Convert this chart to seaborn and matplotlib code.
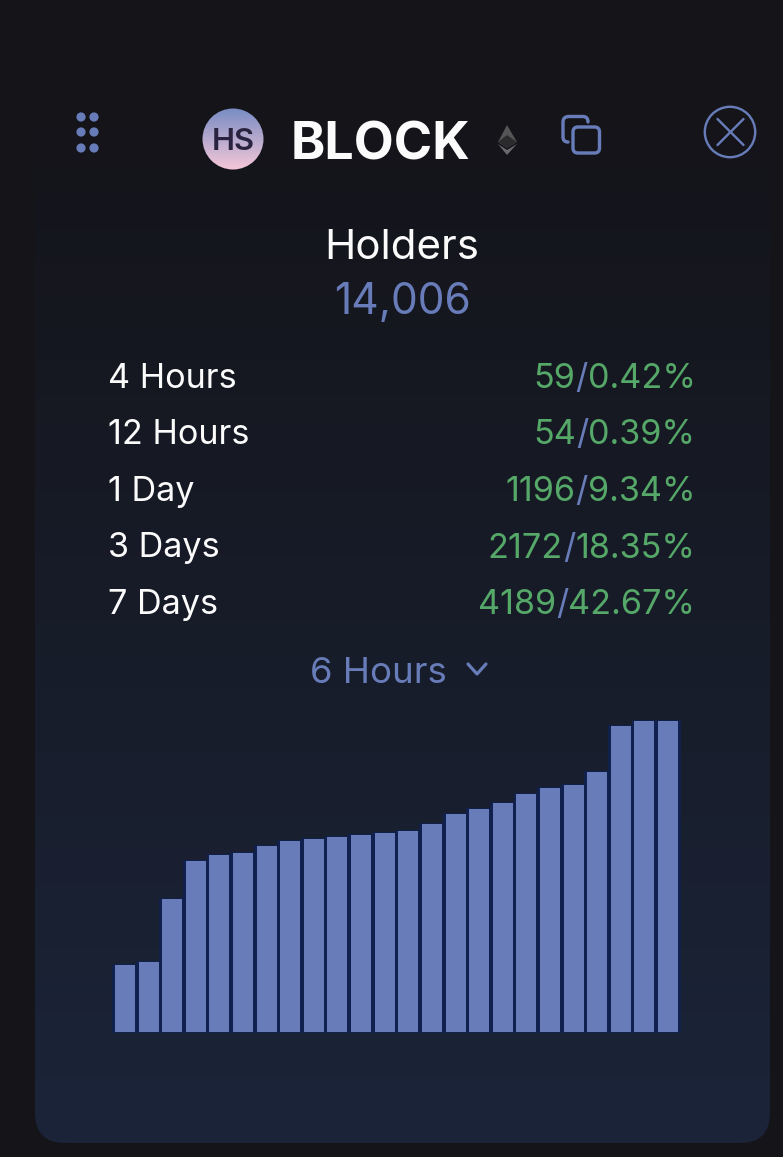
import numpy as np
import pandas as pd
import seaborn as sns
import matplotlib
matplotlib.use("Agg")
import matplotlib.pyplot as plt
from matplotlib.patches import Circle, FancyBboxPatch, Polygon, PathPatch
from matplotlib.path import Path

# ---- data ----
token = "BLOCK"
badge = "HS"
metric_name = "Holders"
metric_value = "14,006"
period_labels = ["4 Hours", "12 Hours", "1 Day", "3 Days", "7 Days"]
change_counts = ["59", "54", "1196", "2172", "4189"]
change_pcts = ["0.42%", "0.39%", "9.34%", "18.35%", "42.67%"]
selector = "6 Hours"
bar_values = [67, 70, 133, 171, 177, 179, 186, 191, 193, 195, 197, 199,
              201, 208, 218, 223, 229, 238, 244, 247, 260, 306, 311, 311]

BG = "#141419"
BLUE = "#677cb8"
NAVY = "#10214f"
GREEN = "#55a868"
WHITE = "#fbfbfb"
W, H = 783, 1157

sns.set_theme(style="white")
plt.rcParams["font.family"] = ["Inter", "DejaVu Sans"]

fig = plt.figure(figsize=(W / 100, H / 100), dpi=100, facecolor=BG)
ui = fig.add_axes([0, 0, 1, 1])
ui.set_xlim(0, W)
ui.set_ylim(H, 0)
ui.axis("off")
px = 0.72  # pixels to points at dpi 100

# panel with vertical gradient
panel = FancyBboxPatch((35, 100), 735, 1043, boxstyle="round,pad=0,rounding_size=30",
                       fc="none", ec="none", transform=ui.transData)
ui.add_patch(panel)
top = np.array([0x14, 0x14, 0x19]) / 255
bot = np.array([0x1b, 0x24, 0x39]) / 255
t = np.linspace(0, 1, 256)[:, None, None]
grad = top[None, None, :] * (1 - t) + bot[None, None, :] * t
im = ui.imshow(grad, extent=(35, 770, 1143, 100), aspect="auto", zorder=0)
im.set_clip_path(panel)
ui.set_xlim(0, W)
ui.set_ylim(H, 0)

# drag handle dots
for dx in (81, 94):
    for dy in (117, 132, 148):
        ui.add_patch(Circle((dx, dy), 4.6, fc=BLUE, ec="none", zorder=3))

# badge with gradient
badge_clip = Circle((233, 139), 30.5, transform=ui.transData, fc="none", ec="none")
ui.add_patch(badge_clip)
c1 = np.array([0x78, 0x8c, 0xc4]) / 255
c2 = np.array([0xf6, 0xc8, 0xd8]) / 255
t2 = np.linspace(0, 1, 128)[:, None, None]
g2 = c1[None, None, :] * (1 - t2) + c2[None, None, :] * t2
b_im = ui.imshow(g2, extent=(202, 264, 170, 108), aspect="auto", zorder=2)
b_im.set_clip_path(badge_clip)
ui.set_xlim(0, W)
ui.set_ylim(H, 0)
ui.text(233.5, 139.5, badge, ha="center", va="center_baseline", color="#2a2340",
        fontsize=31 * px, fontweight="semibold", zorder=3)

ui.text(291, 140, token, ha="left", va="center_baseline", color=WHITE,
        fontsize=52 * px, fontweight="bold", zorder=3)

# ethereum mark
ui.add_patch(Polygon([(507, 125), (498, 142), (507, 148), (517, 142)], fc="#555557", ec="none", zorder=3))
ui.add_patch(Polygon([(507, 135), (498, 142), (507, 148), (517, 142)], fc="#2b2b2d", ec="none", zorder=3))
ui.add_patch(Polygon([(498, 144), (507, 155), (517, 144), (507, 150)], fc="#6a6a6c", ec="none", zorder=3))

# copy icon
ui.add_patch(FancyBboxPatch((573, 127), 26.5, 26, boxstyle="round,pad=0,rounding_size=5",
                            fc="none", ec=BLUE, lw=3.4 * px, zorder=3))
copy_back = Path([(568, 142), (563, 142), (563, 137), (563, 122), (563, 116.5), (569, 116.5),
                  (583, 116.5), (588, 116.5), (588, 122)],
                 [Path.MOVETO, Path.CURVE3, Path.CURVE3, Path.LINETO, Path.CURVE3, Path.CURVE3,
                  Path.LINETO, Path.CURVE3, Path.CURVE3])
ui.add_patch(PathPatch(copy_back, fc="none", ec=BLUE, lw=3.4 * px, capstyle="round", zorder=3))

# close icon
ui.add_patch(Circle((730, 132), 25.2, fc="none", ec=BLUE, lw=2.4 * px, zorder=3))
ui.plot([717.5, 743.5], [119, 145], color=BLUE, lw=2.4 * px, zorder=3)
ui.plot([743.5, 717.5], [119, 145], color=BLUE, lw=2.4 * px, zorder=3)

# header texts
ui.text(402, 244, metric_name, ha="center", va="center_baseline", color=WHITE, fontsize=42 * px, zorder=3)
ui.text(402, 298, metric_value, ha="center", va="center_baseline", color=BLUE, fontsize=42.5 * px, zorder=3)

# rows
row_y = [375, 431.5, 488.5, 545, 601.5]
renderer = fig.canvas.get_renderer()
fs = 34.2 * px
for y, lab, cnt, pct in zip(row_y, period_labels, change_counts, change_pcts):
    ui.text(108, y, lab, ha="left", va="center_baseline", color=WHITE, fontsize=fs, zorder=3)
    t_pct = ui.text(695.5, y, pct, ha="right", va="center_baseline", color=GREEN, fontsize=fs, zorder=3)
    x0 = ui.transData.inverted().transform(t_pct.get_window_extent(renderer))[0, 0]
    t_sl = ui.text(x0, y, "/", ha="right", va="center_baseline", color=BLUE, fontsize=fs, zorder=3)
    x1 = ui.transData.inverted().transform(t_sl.get_window_extent(renderer))[0, 0]
    ui.text(x1, y, cnt, ha="right", va="center_baseline", color=GREEN, fontsize=fs, zorder=3)

# selector
ui.text(310, 670, selector, ha="left", va="center_baseline", color=BLUE, fontsize=36.6 * px, zorder=3)
ui.plot([468, 477, 486], [664, 674, 664], color=BLUE, lw=3.2 * px, zorder=3,
        solid_capstyle="round", solid_joinstyle="round")

# bar chart
base_y, top_y = 1032, 721
left, right = 113.2, 679.8
ax = fig.add_axes([left / W, 1 - base_y / H, (right - left) / W, (base_y - top_y) / H], zorder=2)
ax.patch.set_alpha(0)
df = pd.DataFrame({"slot": range(len(bar_values)), "value": bar_values})
sns.barplot(data=df, x="slot", y="value", color=NAVY, saturation=1, width=1.0,
            edgecolor=NAVY, linewidth=1.6 * px, ax=ax)
sns.barplot(data=df, x="slot", y="value", color=BLUE, saturation=1, width=0.846,
            linewidth=0, ax=ax)
for b in ax.patches:
    b.set_clip_on(False)
ax.set_xlim(-0.5, len(bar_values) - 0.5)
ax.set_ylim(0, max(bar_values))
ax.axis("off")

fig.savefig("out.png", dpi=100, facecolor=BG)
